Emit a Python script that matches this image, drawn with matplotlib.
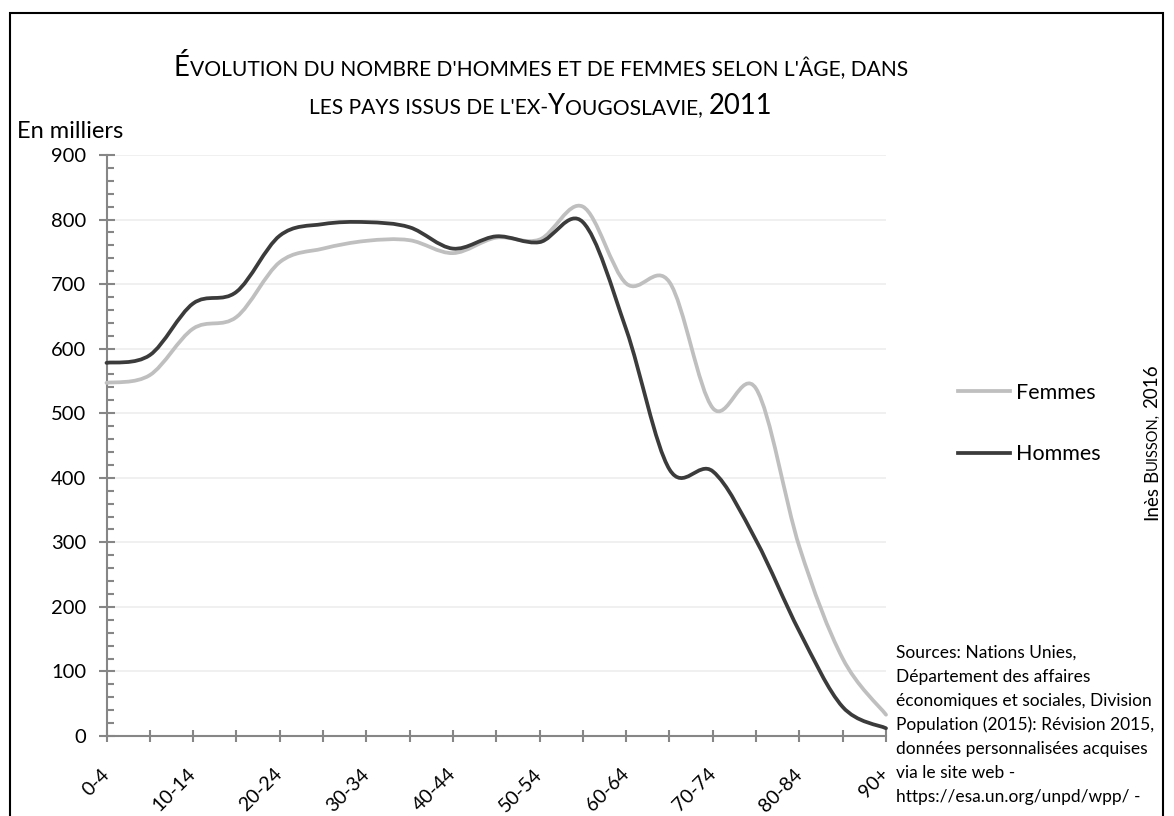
import numpy as np
import matplotlib
matplotlib.use('Agg')
import matplotlib.pyplot as plt
from matplotlib.path import Path
from matplotlib.patches import PathPatch, Rectangle
from matplotlib.lines import Line2D
from matplotlib.ticker import MultipleLocator

plt.rcParams['font.family'] = ['Lato', 'DejaVu Sans']

age_groups = ['0-4', '5-9', '10-14', '15-19', '20-24', '25-29', '30-34',
              '35-39', '40-44', '45-49', '50-54', '55-59', '60-64', '65-69',
              '70-74', '75-79', '80-84', '85-89', '90+']
femmes = [547, 559, 631, 649, 734, 755, 767, 768, 748, 772, 769, 820,
          701, 703, 508, 538, 293, 120, 33]
hommes = [578, 590, 670, 688, 775, 793, 796, 788, 755, 774, 765, 796,
          630, 413, 410, 303, 162, 45, 12]

W, H = 1174, 816


def smooth_path(xs, ys):
    # Excel style smoothed line: cubic bezier through the points
    pts = np.column_stack([xs, ys]).astype(float)
    n = len(pts)
    verts = [pts[0]]
    codes = [Path.MOVETO]
    for i in range(n - 1):
        p0 = pts[max(i - 1, 0)]
        p1 = pts[i]
        p2 = pts[i + 1]
        p3 = pts[min(i + 2, n - 1)]
        verts += [p1 + (p2 - p0) / 6, p2 - (p3 - p1) / 6, p2]
        codes += [Path.CURVE4] * 3
    return Path(verts, codes)


def draw_pieces(fig, renderer, pieces, x_px, y_px, center=True, rotation=0):
    # small caps text: pieces of (text, size, gap_before)
    texts = []
    total = 0
    for txt, size, gap in pieces:
        t = fig.text(0, 0, txt, fontsize=size, rotation=rotation,
                     rotation_mode='anchor', ha='left', va='baseline')
        bb = t.get_window_extent(renderer)
        w = bb.height if rotation else bb.width
        texts.append((t, gap, w))
        total += gap + w
    if rotation:
        pos = y_px
        for t, gap, w in texts:
            pos -= gap
            t.set_position((x_px / W, 1 - pos / H))
            pos -= w
    else:
        pos = x_px - total / 2 if center else x_px
        for t, gap, w in texts:
            pos += gap
            t.set_position((pos / W, 1 - y_px / H))
            pos += w


fig = plt.figure(figsize=(W / 100, H / 100), dpi=100)
ax = fig.add_axes([106.5 / W, 1 - 736 / H, (886 - 106.5) / W, (736 - 155) / H])

x = np.arange(len(age_groups))
femmes_col = '#bfbfbf'
hommes_col = '#3b3b3b'
for vals, col in [(femmes, femmes_col), (hommes, hommes_col)]:
    patch = PathPatch(smooth_path(x, vals), fill=False, edgecolor=col,
                      lw=2.7, capstyle='round', joinstyle='round',
                      clip_on=False, zorder=3)
    ax.add_patch(patch)

ax.set_xlim(0, len(age_groups) - 1)
ax.set_ylim(0, 900)
ax.set_xticks(x)
ax.set_xticklabels([g if i % 2 == 0 else '' for i, g in enumerate(age_groups)],
                   rotation=45, ha='right', va='center',
                   rotation_mode='anchor', fontsize=14)
ax.yaxis.set_major_locator(MultipleLocator(100))
ax.yaxis.set_minor_locator(MultipleLocator(20))
ax.tick_params(axis='x', direction='inout', length=9, width=1.5,
               color='#868686', pad=21)
ax.tick_params(axis='y', which='major', direction='inout', length=11,
               width=1.5, color='#868686', labelsize=14.5, pad=9)
ax.tick_params(axis='y', which='minor', direction='in', length=5,
               width=1.5, color='#868686')
for s in ['top', 'right']:
    ax.spines[s].set_visible(False)
for s in ['left', 'bottom']:
    ax.spines[s].set_color('#868686')
    ax.spines[s].set_linewidth(1.5)
ax.yaxis.grid(True, color='#efefef', lw=1.3)
ax.set_axisbelow(True)

handles = [Line2D([], [], color=femmes_col, lw=2.7),
           Line2D([], [], color=hommes_col, lw=2.7)]
fig.legend(handles, ['Femmes', 'Hommes'], loc='center left',
           bbox_to_anchor=(958 / W, 1 - 423.5 / H), frameon=False,
           fontsize=15.5, borderpad=0, borderaxespad=0, labelspacing=1.95,
           handlelength=2.4, handletextpad=0.3)

fig.text(17 / W, 1 - 138 / H, 'En milliers', fontsize=17, va='baseline')

sources = ('Sources: Nations Unies,\nDépartement des affaires\n'
           'économiques et sociales, Division\nPopulation (2015): Révision 2015,\n'
           'données personnalisées acquises\nvia le site web -\n'
           'https://esa.un.org/unpd/wpp/ -')
fig.text(896 / W, 1 - 645 / H, sources, fontsize=12.5, va='top',
         linespacing=1.6)

renderer = fig.canvas.get_renderer()
draw_pieces(fig, renderer,
            [('É', 19.8, 0),
             ('VOLUTION DU NOMBRE D\'HOMMES ET DE FEMMES SELON L\'ÂGE, DANS', 15.1, 0)],
            541, 76)
draw_pieces(fig, renderer,
            [('LES PAYS ISSUS DE L\'EX-', 15.1, 0), ('Y', 19.8, 0),
             ('OUGOSLAVIE,', 15.1, 0), ('2011', 19.8, 6)],
            541, 114)
draw_pieces(fig, renderer,
            [('Inès', 13.5, 0), ('B', 13.5, 4), ('UISSON,', 10.5, 0), ('2016', 13.5, 5)],
            1157, 520, center=False, rotation=90)

fig.add_artist(Rectangle((10 / W, -0.01), (1163 - 10) / W, 1.01 - 13 / H,
                         transform=fig.transFigure, fill=False,
                         edgecolor='black', lw=1.5))

fig.savefig('out.png', dpi=100)
